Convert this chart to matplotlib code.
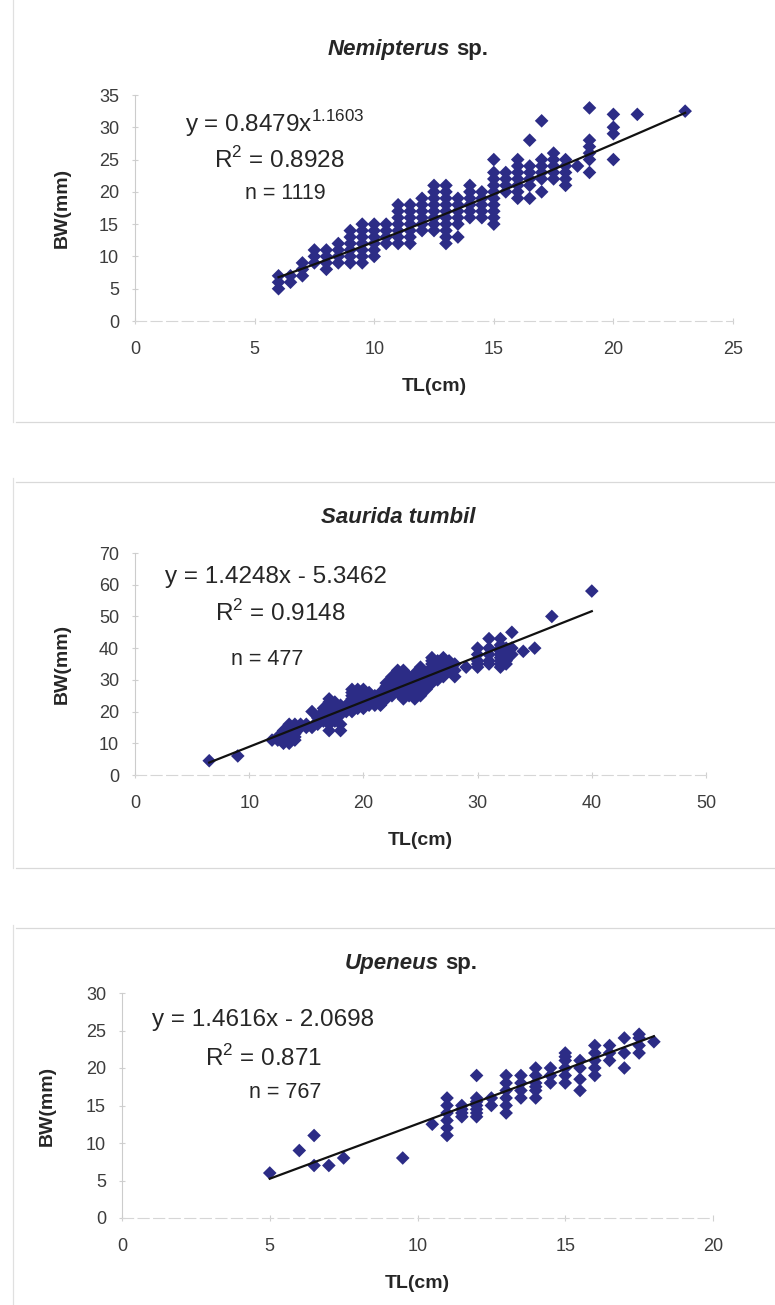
import numpy as np
import matplotlib
matplotlib.use("Agg")
import matplotlib.pyplot as plt
from matplotlib.lines import Line2D

plt.rcParams["font.family"] = ["Liberation Sans", "DejaVu Sans"]
plt.rcParams["mathtext.fontset"] = "custom"
plt.rcParams["mathtext.rm"] = "Liberation Sans"

# --- Nemipterus sp. : TL (cm) columns and BW (mm) values
nem_cols = {
    6: [5, 6, 7], 6.5: [6, 7], 7: [7, 8, 9], 7.5: [9, 10, 11], 8: [8, 9, 10, 11],
    8.5: [9, 10, 11, 12], 9: [9, 10, 11, 12, 13, 14], 9.5: [9, 10, 11, 12, 13, 14, 15],
    10: [10, 11, 12, 13, 14, 15], 10.5: [12, 13, 14, 15],
    11: [12, 13, 14, 15, 16, 17, 18], 11.5: [12, 13, 14, 15, 16, 17, 18],
    12: [14, 15, 16, 17, 18, 19], 12.5: [14, 15, 16, 17, 18, 19, 20, 21],
    13: [12, 13, 14, 15, 16, 17, 18, 19, 20, 21], 13.5: [13, 15, 16, 17, 18, 19],
    14: [16, 17, 18, 19, 20, 21], 14.5: [16, 17, 18, 19, 20],
    15: [15, 16, 17, 18, 19, 20, 21, 22, 23, 25], 15.5: [20, 21, 22, 23],
    16: [19, 20, 21, 22, 23, 24, 25], 16.5: [19, 21, 22, 23, 24, 28],
    17: [20, 22, 23, 24, 25, 31], 17.5: [22, 23, 24, 25, 26], 18: [21, 22, 23, 24, 25],
    18.5: [24], 19: [23, 25, 26, 27, 28, 33], 20: [25, 29, 30, 32], 21: [32], 23: [32.5],
}
nem_a, nem_b = 0.8479, 1.1603  # power trendline y = a x^b
nem_range = (6, 23)

# --- Saurida tumbil
sau_cols = {
    6.5: [4.5], 9: [6], 12: [11], 12.5: [11, 12], 13: [10, 11, 12, 13, 14],
    13.5: [10, 11, 12, 13, 14, 15, 16], 14: [11, 12, 13, 15, 16], 14.5: [15, 16],
    15: [15, 16], 15.5: [15, 20], 16: [16, 17, 18], 16.5: [17, 18, 19, 20, 21],
    17: [14, 16, 17, 18, 19, 20, 21, 22, 23, 24], 17.5: [17, 18, 20, 22, 23],
    18: [14, 16, 19, 20, 22], 18.5: [20, 21, 22], 19: [20, 21, 22, 23, 24, 25, 26, 27],
    19.5: [21, 22, 23, 24, 25, 26, 27], 20: [21, 22, 23, 24, 25, 26, 27],
    20.5: [22, 23, 24, 25, 26], 21: [22, 23, 24, 25], 21.5: [22, 24, 26],
    22: [24, 25, 26, 27, 28, 29], 22.5: [25, 26, 27, 28, 29, 30, 31],
    23: [26, 27, 28, 29, 30, 31, 33], 23.5: [24, 26, 28, 29, 30, 32, 33],
    24: [25, 27, 28, 29, 30, 31], 24.5: [24, 26, 28, 30, 31, 32],
    25: [25, 27, 28, 29, 30, 31, 32, 33, 34], 25.5: [27, 28, 30, 32],
    26: [29, 30, 31, 32, 33, 34, 35, 36, 37], 26.5: [30, 32, 33, 34, 35, 36],
    27: [31, 32, 33, 34, 35, 36, 37], 27.5: [33, 34, 35, 36], 28: [31, 33, 35],
    29: [34], 30: [34, 35, 36, 38, 40], 31: [35, 36, 38, 40, 43],
    32: [34, 35, 36, 37, 38, 39, 40, 41, 43], 32.5: [35, 36, 37, 40],
    33: [38, 40, 45], 34: [39], 35: [40], 36.5: [50], 40: [58],
}
sau_m, sau_c = 1.4248, -5.3462
sau_range = (6.5, 40)

# --- Upeneus sp.
upe_cols = {
    5: [6], 6: [9], 6.5: [7, 11], 7: [7], 7.5: [8], 9.5: [8], 10.5: [12.5],
    11: [11, 12, 13, 14, 15, 16], 11.5: [13.5, 14, 14.5, 15],
    12: [13.5, 14, 14.5, 15, 15.5, 16, 19], 12.5: [15, 16],
    13: [14, 15, 16, 17, 18, 19], 13.5: [16, 17, 18, 19],
    14: [16, 17, 17.5, 18, 19, 20], 14.5: [18, 19, 20],
    15: [18, 19, 20, 21, 21.5, 22], 15.5: [17, 18.5, 20, 21],
    16: [19, 20, 21, 22, 23], 16.5: [21, 22, 23], 17: [20, 22, 24],
    17.5: [22, 23, 24, 24.5], 18: [23.5],
}
upe_m, upe_c = 1.4616, -2.0698
upe_range = (5, 18)


def flatten(cols):
    xs, ys = [], []
    for x, vals in cols.items():
        xs += [x] * len(vals)
        ys += vals
    return np.array(xs), np.array(ys)


W, H = 775, 1305
fig = plt.figure(figsize=(W / 100, H / 100), dpi=100)
pt = "#2C2C86"
txt = "#262626"


def px_ax(l, r, t, b):
    return fig.add_axes([l / W, 1 - b / H, (r - l) / W, (b - t) / H])


def style(ax, xmax, xstep, ymax, ystep, ypad=20):
    ax.set_xlim(0, xmax)
    ax.set_ylim(0, ymax)
    ax.set_xticks(np.arange(0, xmax + 1, xstep))
    ax.set_yticks(np.arange(0, ymax + 1, ystep))
    for s in ["top", "right"]:
        ax.spines[s].set_visible(False)
    ax.spines["left"].set_color("#cccccc")
    ax.spines["bottom"].set_color("#d6d6d6")
    ax.spines["bottom"].set_linestyle((0, (10, 4)))
    ax.tick_params(direction="inout", length=5, color="#d0d0d0", labelsize=13,
                   labelcolor="#3c3c3c", pad=9)
    ax.tick_params(axis="x", pad=12)
    ax.set_xlabel("TL(cm)", fontsize=14, fontweight="bold", color=txt, labelpad=14)
    ax.set_ylabel("BW(mm)", fontsize=14, fontweight="bold", color=txt, labelpad=ypad)
    ax.set_facecolor("none")


def title(xr, xl, y, italic, rest):
    fig.text(xr / W, 1 - y / H, italic, ha="right", va="center", fontsize=16,
             fontweight="bold", style="italic", color=txt)
    fig.text(xl / W, 1 - y / H, rest, ha="left", va="center", fontsize=16,
             fontweight="bold", color=txt)


# faint frame lines of the source page
for yy in [422, 482, 868, 928]:
    fig.add_artist(Line2D([0.02, 1], [1 - yy / H] * 2, color="#d9d9d9", lw=0.9))
for y0, y1 in [(0, 422), (478, 868), (925, 1305)]:
    fig.add_artist(Line2D([13 / W] * 2, [1 - y0 / H, 1 - y1 / H], color="#e0e0e0", lw=0.9))

eq_fs, n_fs = 17.5, 15.5

# panel 1
ax1 = px_ax(135, 733, 95, 321)
style(ax1, 25, 5, 35, 5)
x, y = flatten(nem_cols)
ax1.scatter(x, y, marker="D", s=48, color=pt, edgecolors="none", zorder=3)
xf = np.linspace(*nem_range, 50)
ax1.plot(xf, nem_a * xf ** nem_b, color="#111111", lw=1.6, zorder=4)
ax1.text(2.1, 30.6, r"y = 0.8479x$^{1.1603}$", fontsize=eq_fs, va="center", color=txt)
ax1.text(3.3, 25.0, r"R$^2$ = 0.8928", fontsize=eq_fs, va="center", color=txt)
ax1.text(4.6, 19.8, "n = 1119", fontsize=n_fs, va="center", color=txt)
title(450, 456, 50, "Nemipterus", "sp.")

# panel 2
ax2 = px_ax(135, 706, 553, 775)
style(ax2, 50, 10, 70, 10)
x, y = flatten(sau_cols)
ax2.scatter(x, y, marker="D", s=48, color=pt, edgecolors="none", zorder=3)
xf = np.array(sau_range)
ax2.plot(xf, sau_m * xf + sau_c, color="#111111", lw=1.6, zorder=4)
ax2.text(2.6, 62.4, "y = 1.4248x - 5.3462", fontsize=eq_fs, va="center", color=txt)
ax2.text(7.0, 51.0, r"R$^2$ = 0.9148", fontsize=eq_fs, va="center", color=txt)
ax2.text(8.4, 36.3, "n = 477", fontsize=n_fs, va="center", color=txt)
fig.text(398 / W, 1 - 518 / H, "Saurida tumbil", ha="center", va="center", fontsize=16,
         fontweight="bold", style="italic", color=txt)

# panel 3
ax3 = px_ax(122, 713, 993, 1218)
style(ax3, 20, 5, 30, 5, ypad=22)
x, y = flatten(upe_cols)
ax3.scatter(x, y, marker="D", s=48, color=pt, edgecolors="none", zorder=3)
xf = np.array(upe_range)
ax3.plot(xf, upe_m * xf + upe_c, color="#111111", lw=1.6, zorder=4)
ax3.text(1.0, 26.4, "y = 1.4616x - 2.0698", fontsize=eq_fs, va="center", color=txt)
ax3.text(2.8, 21.3, r"R$^2$ = 0.871", fontsize=eq_fs, va="center", color=txt)
ax3.text(4.3, 16.8, "n = 767", fontsize=n_fs, va="center", color=txt)
title(439, 445, 964, "Upeneus", "sp.")

fig.savefig("out.png", dpi=100)
